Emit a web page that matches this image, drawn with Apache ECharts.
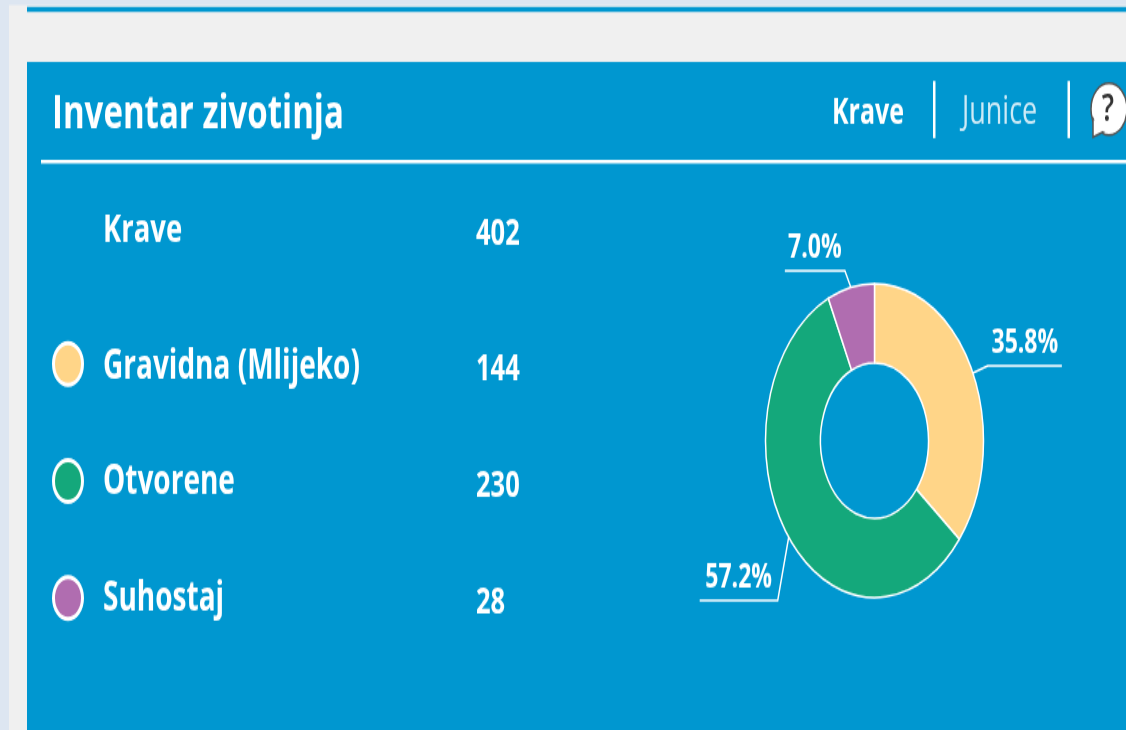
<!DOCTYPE html>
<html><head><meta charset="utf-8">
<script src="https://cdn.jsdelivr.net/npm/echarts@6/dist/echarts.min.js"></script>
<style>
html,body{margin:0;padding:0;background:#f0f0f0;overflow:hidden;width:1126px;height:730px}
#c{width:1126px;height:507px;transform-origin:0 0;transform:scaleY(1.44);filter:blur(0.4px)}
</style></head><body><div id="c"></div>
<script>
const title = 'Inventar zivotinja';
const tabs = ['Krave', 'Junice'];
const totalLabel = 'Krave';
const totalValue = 402;
const categories = ['Gravidna (Mlijeko)', 'Otvorene', 'Suhostaj'];
const values = [144, 230, 28];
const percents = ['35.8%', '57.2%', '7.0%'];
const colors = ['#FFD588', '#14A87B', '#B06DB0'];

const S = 1.44, Y = v => v / S;
const FONT = '"Open Sans"';
const chart = echarts.init(document.getElementById('c'));
const txt = (x, yy, text, size, weight, fill, align) => ({
  type: 'text', x, y: Y(yy), z: 5,
  style: { text: String(text), fontFamily: FONT, fontSize: size, fontWeight: weight, fill, align: align || 'left', verticalAlign: 'middle' }
});
const rect = (x, y1, w, y2, fill, z) => ({
  type: 'rect', z: z || 1, shape: { x, y: Y(y1), width: w, height: Y(y2) - Y(y1) }, style: { fill }
});
const rowY = [367, 483, 599], valY = [370, 486, 603], dotY = [364, 481, 598];
const graphics = [
  rect(0, 0, 1126, 730, '#f0f0f0'),
  rect(0, 0, 9, 730, '#dde6f1'),
  rect(0, 0, 1126, 5, '#dde6f1'),
  rect(27, 7, 1099, 12, '#0097d0'),
  rect(27, 62, 1099, 730, '#0097d0'),
  rect(41, 160, 1085, 163.5, '#ffffff', 3),
  rect(933, 81, 2.5, 138, '#ffffff', 3),
  rect(1067.5, 81, 2.5, 138, '#ffffff', 3),
  txt(52, 114, title, 33, 700, '#ffffff'),
  txt(832, 113, tabs[0], 25, 700, '#ffffff'),
  txt(962, 113, tabs[1], 27, 400, '#cdeaf6'),
  txt(103, 231, totalLabel, 27.5, 700, '#ffffff'),
  txt(476, 234, totalValue, 25.5, 700, '#ffffff'),
  { type: 'circle', z: 4, shape: { cx: 1109, cy: Y(109), r: 18 }, style: { fill: '#ffffff', stroke: '#555555', lineWidth: 1.5 } },
  { type: 'polygon', z: 4, shape: { points: [[1093, Y(118)], [1093, Y(137)], [1109, Y(129)]] }, style: { fill: '#ffffff', stroke: '#555555', lineWidth: 1.5 } },
  { type: 'circle', z: 4, shape: { cx: 1109, cy: Y(109), r: 16.5 }, style: { fill: '#ffffff' } },
  txt(1108, 110, '?', 27, 600, '#333333', 'center')
];
categories.forEach((n, i) => {
  graphics.push({ type: 'circle', z: 4, shape: { cx: 68, cy: Y(dotY[i]), r: 14.5 }, style: { fill: colors[i], stroke: '#ffffff', lineWidth: 3 } });
  graphics.push(txt(103, rowY[i], n, 28, 700, '#ffffff'));
  graphics.push(txt(476, valY[i], values[i], 25.5, 700, '#ffffff'));
});

// Leader-line elbow offset from the library's slice anchor, and the shelf length
const elbow = [[15, -5], [-11, 44], [-6, -11.5]];
const shelf = [74, 78, 60];
chart.setOption({
  animation: false,
  graphic: { elements: graphics },
  series: [{
    type: 'pie', z: 10, center: [874.5, Y(440.5)], radius: [54, 109], startAngle: 90, clockwise: true,
    data: categories.map((n, i) => ({ name: n, value: values[i], itemStyle: { color: colors[i] }, label: { formatter: percents[i] } })),
    itemStyle: { borderColor: '#ffffff', borderWidth: 1.5 },
    label: { show: true, color: '#fff', fontFamily: FONT, fontSize: 23, fontWeight: 700 },
    labelLine: { show: true, length: 10, length2: 40, smooth: false, lineStyle: { color: '#fff', width: 1.5 } },
    labelLayout(p) {
      const i = p.dataIndex, a = p.labelLinePoints[0];
      const dir = elbow[i][0] > 0 ? 1 : -1;
      const b = [a[0] + elbow[i][0], a[1] + elbow[i][1]];
      const c = [b[0] + dir * shelf[i], b[1]];
      const mid = (b[0] + c[0]) / 2;
      return { x: mid, y: b[1] - 4, align: 'center', verticalAlign: 'bottom', labelLinePoints: [a, b, c] };
    }
  }]
});
</script></body></html>
